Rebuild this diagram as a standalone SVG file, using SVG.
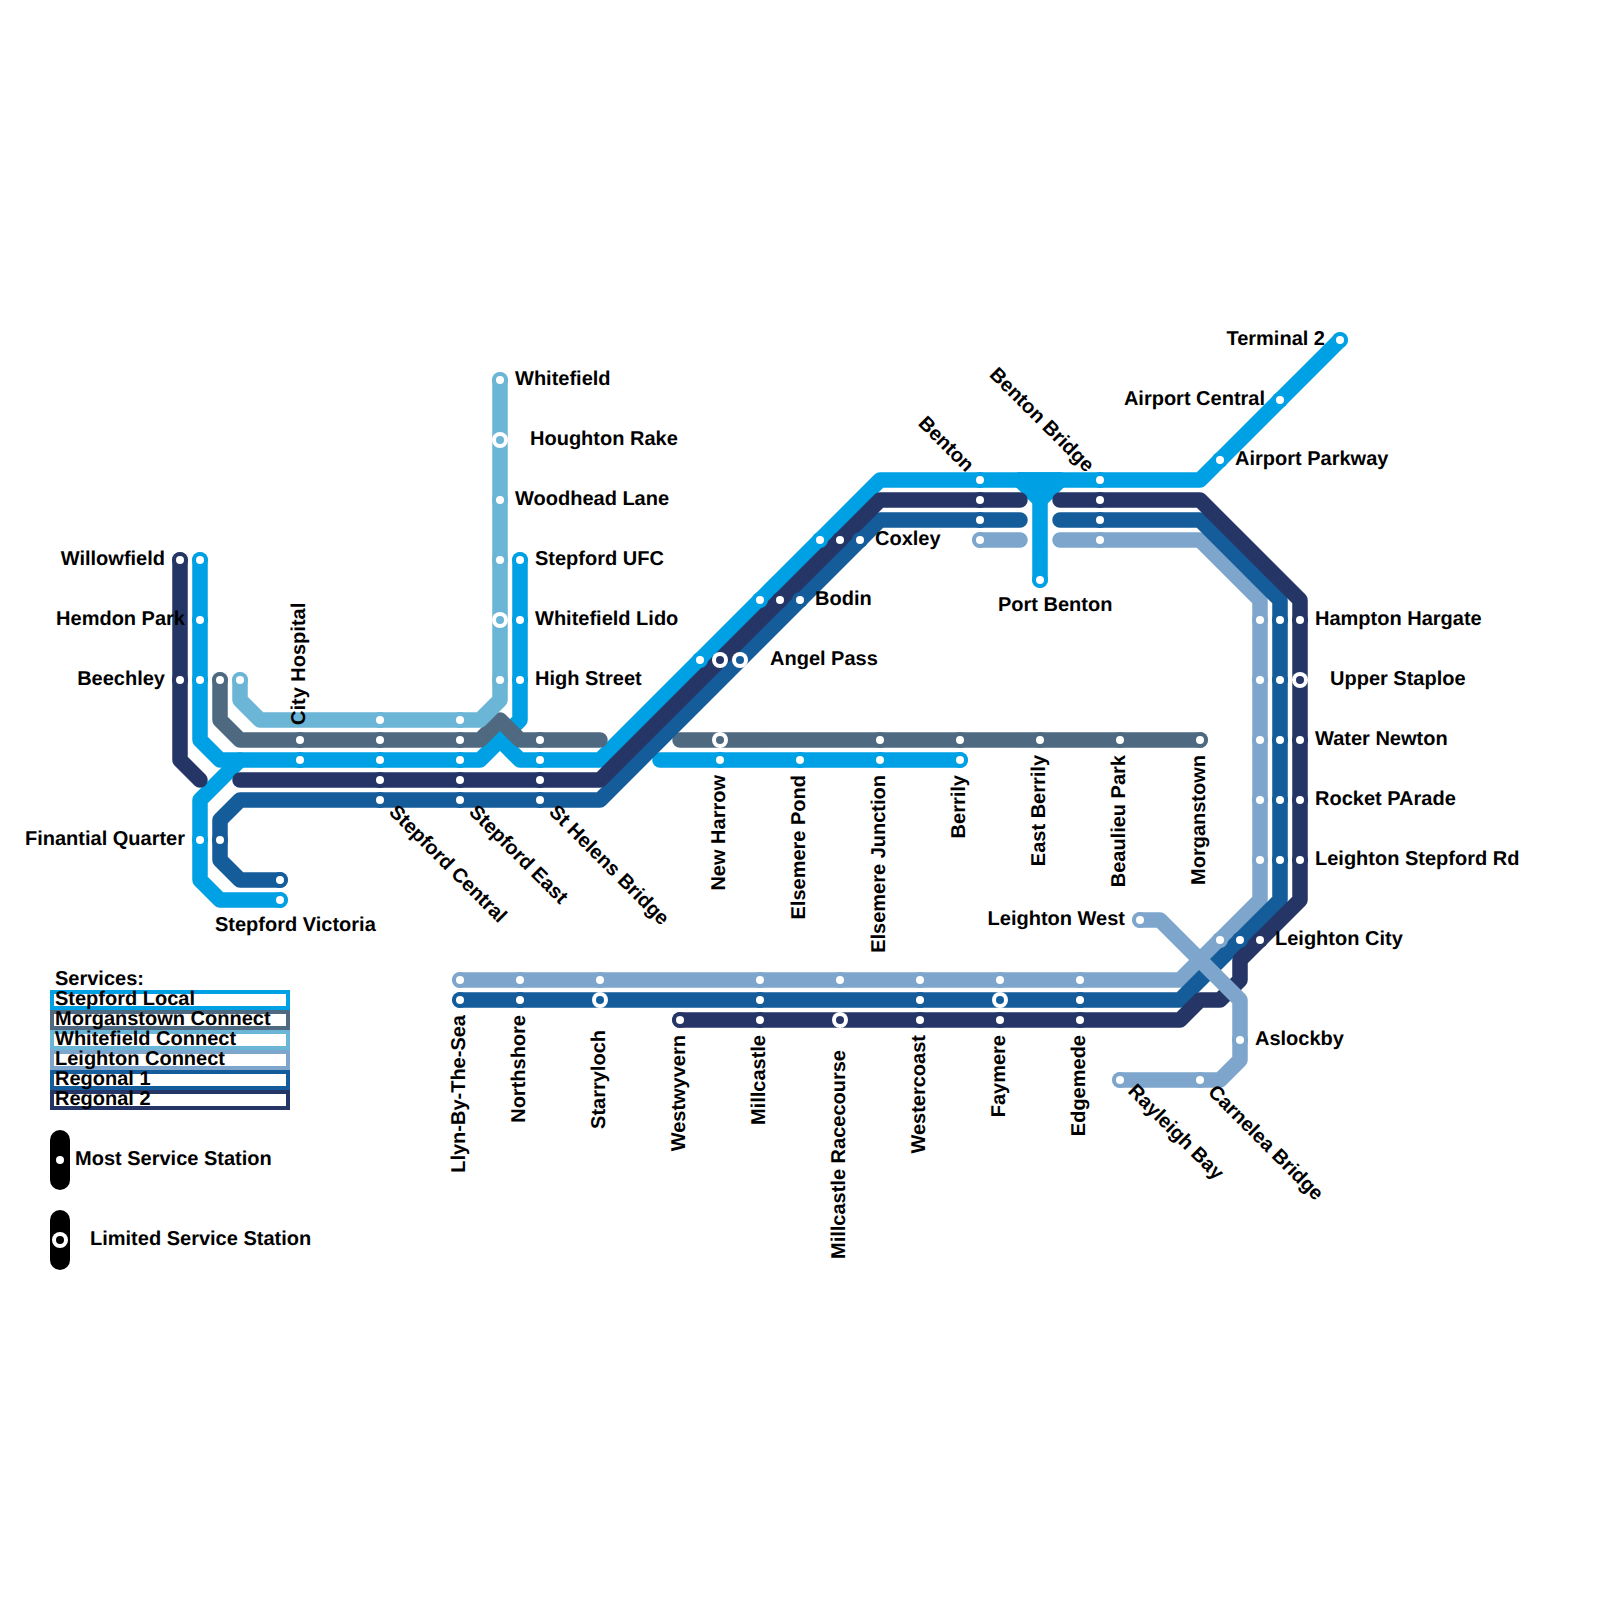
<svg xmlns="http://www.w3.org/2000/svg" width="1600" height="1600" viewBox="0 0 1600 1600">
<style>
text{font-family:"Liberation Sans",Arial,sans-serif;font-weight:bold;font-size:20px;fill:#000;text-rendering:geometricPrecision}
.e{text-anchor:end}
.l{fill:none;stroke-width:15.5;stroke-linecap:round;stroke-linejoin:round}
.sl{stroke:#00a0e4}.mc{stroke:#4f6a80}.wc{stroke:#6bb5d6}.lc{stroke:#7ea6cc}.r1{stroke:#155c9a}.r2{stroke:#243566}
.k{fill:#fff;stroke-width:4}
circle{fill:#fff}
</style>
<g id="connectors">
<path class="l sl" d="M200 560V740L220 760H480L500 740L520 760H600L880 480H1200L1340 340"/>
<path class="l sl" d="M240 760L200 800V880L220 900H280"/>
<path class="l sl" d="M520 560V720L500 740"/>
<path class="l sl" d="M660 760H960"/>
<path class="l sl" d="M1020 480L1040 500V580M1060 480L1040 500"/>
<path class="l sl" style="fill:#00a0e4" d="M1020 480H1060L1040 500Z"/>
<path class="l mc" d="M220 680V720L240 740H480L500 720L520 740H600"/>
<path class="l mc" d="M680 740H1200"/>
<path class="l wc" d="M500 380V700L480 720H260L240 700V680"/>
<path class="l lc" d="M980 540H1020"/>
<path class="l lc" d="M1060 540H1200L1260 600V900L1180 980H460"/>
<path class="l r1" d="M280 880H240L220 860V820L240 800H600L880 520H1020"/>
<path class="l r1" d="M1060 520H1200L1280 600V900L1180 1000H460"/>
<path class="l r2" d="M180 560V760L200 780"/>
<path class="l r2" d="M240 780H600L880 500H1020"/>
<path class="l r2" d="M1060 500H1200L1300 600V900L1240 960V980L1220 1000H1200L1180 1020H680"/>
<path class="l lc" d="M1140 920H1160L1240 1000V1060L1220 1080H1120"/>
</g>
<g id="legend">
<text x="55" y="985">Services:</text>
<rect class="k sl" x="52" y="992" width="236" height="16"/>
<rect class="k mc" x="52" y="1012" width="236" height="16"/>
<rect class="k wc" x="52" y="1032" width="236" height="16"/>
<rect class="k lc" x="52" y="1052" width="236" height="16"/>
<rect class="k r1" x="52" y="1072" width="236" height="16"/>
<rect class="k r2" x="52" y="1092" width="236" height="16"/>
<text x="55" y="1005">Stepford Local</text>
<text x="55" y="1025">Morganstown Connect</text>
<text x="55" y="1045">Whitefield Connect</text>
<text x="55" y="1065">Leighton Connect</text>
<text x="55" y="1085">Regonal 1</text>
<text x="55" y="1105">Regonal 2</text>
<rect x="50" y="1130" width="20" height="60" rx="10"/>
<circle cx="60" cy="1160" r="4"/>
<text x="75" y="1165">Most Service Station</text>
<rect x="50" y="1210" width="20" height="60" rx="10"/>
<circle cx="60" cy="1240" r="8"/><circle cx="60" cy="1240" r="4" style="fill:#000"/>
<text x="90" y="1245">Limited Service Station</text>
</g>
<g id="willowfield"><circle cx="180" cy="560" r="8" style="fill:#243566"/><circle cx="180" cy="560" r="4"/><circle cx="200" cy="560" r="8" style="fill:#00a0e4"/><circle cx="200" cy="560" r="4"/><text class="e" x="165" y="565">Willowfield</text></g>
<g id="hemdon-park"><circle cx="200" cy="620" r="8" style="fill:#00a0e4"/><circle cx="200" cy="620" r="4"/><text class="e" x="185" y="625">Hemdon Park</text></g>
<g id="beechley"><circle cx="180" cy="680" r="8" style="fill:#243566"/><circle cx="180" cy="680" r="4"/><circle cx="200" cy="680" r="8" style="fill:#00a0e4"/><circle cx="200" cy="680" r="4"/><circle cx="220" cy="680" r="8" style="fill:#4f6a80"/><circle cx="220" cy="680" r="4"/><circle cx="240" cy="680" r="8" style="fill:#6bb5d6"/><circle cx="240" cy="680" r="4"/><text class="e" x="165" y="685">Beechley</text></g>
<g id="city-hospital"><circle cx="300" cy="740" r="8" style="fill:#4f6a80"/><circle cx="300" cy="740" r="4"/><circle cx="300" cy="760" r="8" style="fill:#00a0e4"/><circle cx="300" cy="760" r="4"/><text transform="translate(305 725) rotate(-90)">City Hospital</text></g>
<g id="finantial-quarter"><circle cx="200" cy="840" r="8" style="fill:#00a0e4"/><circle cx="200" cy="840" r="4"/><circle cx="220" cy="840" r="8" style="fill:#155c9a"/><circle cx="220" cy="840" r="4"/><text class="e" x="185" y="845">Finantial Quarter</text></g>
<g id="stepford-victoria"><circle cx="280" cy="880" r="8" style="fill:#155c9a"/><circle cx="280" cy="880" r="4"/><circle cx="280" cy="900" r="8" style="fill:#00a0e4"/><circle cx="280" cy="900" r="4"/><text x="215" y="931">Stepford Victoria</text></g>
<g id="stepford-central"><circle cx="380" cy="720" r="8" style="fill:#6bb5d6"/><circle cx="380" cy="720" r="4"/><circle cx="380" cy="740" r="8" style="fill:#4f6a80"/><circle cx="380" cy="740" r="4"/><circle cx="380" cy="760" r="8" style="fill:#00a0e4"/><circle cx="380" cy="760" r="4"/><circle cx="380" cy="780" r="8" style="fill:#243566"/><circle cx="380" cy="780" r="4"/><circle cx="380" cy="800" r="8" style="fill:#155c9a"/><circle cx="380" cy="800" r="4"/><text transform="translate(388 813) rotate(45)">Stepford Central</text></g>
<g id="stepford-east"><circle cx="460" cy="720" r="8" style="fill:#6bb5d6"/><circle cx="460" cy="720" r="4"/><circle cx="460" cy="740" r="8" style="fill:#4f6a80"/><circle cx="460" cy="740" r="4"/><circle cx="460" cy="760" r="8" style="fill:#00a0e4"/><circle cx="460" cy="760" r="4"/><circle cx="460" cy="780" r="8" style="fill:#243566"/><circle cx="460" cy="780" r="4"/><circle cx="460" cy="800" r="8" style="fill:#155c9a"/><circle cx="460" cy="800" r="4"/><text transform="translate(468 813) rotate(45)">Stepford East</text></g>
<g id="st-helens-bridge"><circle cx="540" cy="740" r="8" style="fill:#4f6a80"/><circle cx="540" cy="740" r="4"/><circle cx="540" cy="760" r="8" style="fill:#00a0e4"/><circle cx="540" cy="760" r="4"/><circle cx="540" cy="780" r="8" style="fill:#243566"/><circle cx="540" cy="780" r="4"/><circle cx="540" cy="800" r="8" style="fill:#155c9a"/><circle cx="540" cy="800" r="4"/><text transform="translate(548 813) rotate(45)">St Helens Bridge</text></g>
<g id="whitefield"><circle cx="500" cy="380" r="8" style="fill:#6bb5d6"/><circle cx="500" cy="380" r="4"/><text x="515" y="385">Whitefield</text></g>
<g id="houghton-rake"><circle cx="500" cy="440" r="8"/><circle cx="500" cy="440" r="4" style="fill:#6bb5d6"/><text x="530" y="445">Houghton Rake</text></g>
<g id="woodhead-lane"><circle cx="500" cy="500" r="8" style="fill:#6bb5d6"/><circle cx="500" cy="500" r="4"/><text x="515" y="505">Woodhead Lane</text></g>
<g id="stepford-ufc"><circle cx="500" cy="560" r="8" style="fill:#6bb5d6"/><circle cx="500" cy="560" r="4"/><circle cx="520" cy="560" r="8" style="fill:#00a0e4"/><circle cx="520" cy="560" r="4"/><text x="535" y="565">Stepford UFC</text></g>
<g id="whitefield-lido"><circle cx="500" cy="620" r="8"/><circle cx="500" cy="620" r="4" style="fill:#6bb5d6"/><circle cx="520" cy="620" r="8" style="fill:#00a0e4"/><circle cx="520" cy="620" r="4"/><text x="535" y="625">Whitefield Lido</text></g>
<g id="high-street"><circle cx="500" cy="680" r="8" style="fill:#6bb5d6"/><circle cx="500" cy="680" r="4"/><circle cx="520" cy="680" r="8" style="fill:#00a0e4"/><circle cx="520" cy="680" r="4"/><text x="535" y="685">High Street</text></g>
<g id="angel-pass"><circle cx="700" cy="660" r="8" style="fill:#00a0e4"/><circle cx="700" cy="660" r="4"/><circle cx="720" cy="660" r="8"/><circle cx="720" cy="660" r="4" style="fill:#243566"/><circle cx="740" cy="660" r="8"/><circle cx="740" cy="660" r="4" style="fill:#155c9a"/><text x="770" y="665">Angel Pass</text></g>
<g id="bodin"><circle cx="760" cy="600" r="8" style="fill:#00a0e4"/><circle cx="760" cy="600" r="4"/><circle cx="780" cy="600" r="8" style="fill:#243566"/><circle cx="780" cy="600" r="4"/><circle cx="800" cy="600" r="8" style="fill:#155c9a"/><circle cx="800" cy="600" r="4"/><text x="815" y="605">Bodin</text></g>
<g id="coxley"><circle cx="820" cy="540" r="8" style="fill:#00a0e4"/><circle cx="820" cy="540" r="4"/><circle cx="840" cy="540" r="8" style="fill:#243566"/><circle cx="840" cy="540" r="4"/><circle cx="860" cy="540" r="8" style="fill:#155c9a"/><circle cx="860" cy="540" r="4"/><text x="875" y="545">Coxley</text></g>
<g id="new-harrow"><circle cx="720" cy="740" r="8"/><circle cx="720" cy="740" r="4" style="fill:#4f6a80"/><circle cx="720" cy="760" r="8" style="fill:#00a0e4"/><circle cx="720" cy="760" r="4"/><text class="e" transform="translate(725 775) rotate(-90)">New Harrow</text></g>
<g id="elsemere-pond"><circle cx="800" cy="760" r="8" style="fill:#00a0e4"/><circle cx="800" cy="760" r="4"/><text class="e" transform="translate(805 775) rotate(-90)">Elsemere Pond</text></g>
<g id="elsemere-junction"><circle cx="880" cy="740" r="8" style="fill:#4f6a80"/><circle cx="880" cy="740" r="4"/><circle cx="880" cy="760" r="8" style="fill:#00a0e4"/><circle cx="880" cy="760" r="4"/><text class="e" transform="translate(885 775) rotate(-90)">Elsemere Junction</text></g>
<g id="berrily"><circle cx="960" cy="740" r="8" style="fill:#4f6a80"/><circle cx="960" cy="740" r="4"/><circle cx="960" cy="760" r="8" style="fill:#00a0e4"/><circle cx="960" cy="760" r="4"/><text class="e" transform="translate(965 775) rotate(-90)">Berrily</text></g>
<g id="east-berrily"><circle cx="1040" cy="740" r="8" style="fill:#4f6a80"/><circle cx="1040" cy="740" r="4"/><text class="e" transform="translate(1045 755) rotate(-90)">East Berrily</text></g>
<g id="beaulieu-park"><circle cx="1120" cy="740" r="8" style="fill:#4f6a80"/><circle cx="1120" cy="740" r="4"/><text class="e" transform="translate(1125 755) rotate(-90)">Beaulieu Park</text></g>
<g id="morganstown"><circle cx="1200" cy="740" r="8" style="fill:#4f6a80"/><circle cx="1200" cy="740" r="4"/><text class="e" transform="translate(1205 755) rotate(-90)">Morganstown</text></g>
<g id="benton"><circle cx="980" cy="480" r="8" style="fill:#00a0e4"/><circle cx="980" cy="480" r="4"/><circle cx="980" cy="500" r="8" style="fill:#243566"/><circle cx="980" cy="500" r="4"/><circle cx="980" cy="520" r="8" style="fill:#155c9a"/><circle cx="980" cy="520" r="4"/><circle cx="980" cy="540" r="8" style="fill:#7ea6cc"/><circle cx="980" cy="540" r="4"/><text class="e" transform="translate(966 473) rotate(45)">Benton</text></g>
<g id="benton-bridge"><circle cx="1100" cy="480" r="8" style="fill:#00a0e4"/><circle cx="1100" cy="480" r="4"/><circle cx="1100" cy="500" r="8" style="fill:#243566"/><circle cx="1100" cy="500" r="4"/><circle cx="1100" cy="520" r="8" style="fill:#155c9a"/><circle cx="1100" cy="520" r="4"/><circle cx="1100" cy="540" r="8" style="fill:#7ea6cc"/><circle cx="1100" cy="540" r="4"/><text class="e" transform="translate(1086 473) rotate(45)">Benton Bridge</text></g>
<g id="port-benton"><circle cx="1040" cy="580" r="8" style="fill:#00a0e4"/><circle cx="1040" cy="580" r="4"/><text x="998" y="611">Port Benton</text></g>
<g id="airport-parkway"><circle cx="1220" cy="460" r="8" style="fill:#00a0e4"/><circle cx="1220" cy="460" r="4"/><text x="1235" y="465">Airport Parkway</text></g>
<g id="airport-central"><circle cx="1280" cy="400" r="8" style="fill:#00a0e4"/><circle cx="1280" cy="400" r="4"/><text class="e" x="1265" y="405">Airport Central</text></g>
<g id="terminal-2"><circle cx="1340" cy="340" r="8" style="fill:#00a0e4"/><circle cx="1340" cy="340" r="4"/><text class="e" x="1325" y="345">Terminal 2</text></g>
<g id="hampton-hargate"><circle cx="1260" cy="620" r="8" style="fill:#7ea6cc"/><circle cx="1260" cy="620" r="4"/><circle cx="1280" cy="620" r="8" style="fill:#155c9a"/><circle cx="1280" cy="620" r="4"/><circle cx="1300" cy="620" r="8" style="fill:#243566"/><circle cx="1300" cy="620" r="4"/><text x="1315" y="625">Hampton Hargate</text></g>
<g id="upper-staploe"><circle cx="1260" cy="680" r="8" style="fill:#7ea6cc"/><circle cx="1260" cy="680" r="4"/><circle cx="1280" cy="680" r="8" style="fill:#155c9a"/><circle cx="1280" cy="680" r="4"/><circle cx="1300" cy="680" r="8"/><circle cx="1300" cy="680" r="4" style="fill:#243566"/><text x="1330" y="685">Upper Staploe</text></g>
<g id="water-newton"><circle cx="1260" cy="740" r="8" style="fill:#7ea6cc"/><circle cx="1260" cy="740" r="4"/><circle cx="1280" cy="740" r="8" style="fill:#155c9a"/><circle cx="1280" cy="740" r="4"/><circle cx="1300" cy="740" r="8" style="fill:#243566"/><circle cx="1300" cy="740" r="4"/><text x="1315" y="745">Water Newton</text></g>
<g id="rocket-parade"><circle cx="1260" cy="800" r="8" style="fill:#7ea6cc"/><circle cx="1260" cy="800" r="4"/><circle cx="1280" cy="800" r="8" style="fill:#155c9a"/><circle cx="1280" cy="800" r="4"/><circle cx="1300" cy="800" r="8" style="fill:#243566"/><circle cx="1300" cy="800" r="4"/><text x="1315" y="805">Rocket PArade</text></g>
<g id="leighton-stepford-rd"><circle cx="1260" cy="860" r="8" style="fill:#7ea6cc"/><circle cx="1260" cy="860" r="4"/><circle cx="1280" cy="860" r="8" style="fill:#155c9a"/><circle cx="1280" cy="860" r="4"/><circle cx="1300" cy="860" r="8" style="fill:#243566"/><circle cx="1300" cy="860" r="4"/><text x="1315" y="865">Leighton Stepford Rd</text></g>
<g id="leighton-city"><circle cx="1220" cy="940" r="8" style="fill:#7ea6cc"/><circle cx="1220" cy="940" r="4"/><circle cx="1240" cy="940" r="8" style="fill:#155c9a"/><circle cx="1240" cy="940" r="4"/><circle cx="1260" cy="940" r="8" style="fill:#243566"/><circle cx="1260" cy="940" r="4"/><text x="1275" y="945">Leighton City</text></g>
<g id="leighton-west"><circle cx="1140" cy="920" r="8" style="fill:#7ea6cc"/><circle cx="1140" cy="920" r="4"/><text class="e" x="1125" y="925">Leighton West</text></g>
<g id="aslockby"><circle cx="1240" cy="1040" r="8" style="fill:#7ea6cc"/><circle cx="1240" cy="1040" r="4"/><text x="1255" y="1045">Aslockby</text></g>
<g id="carnelea-bridge"><circle cx="1200" cy="1080" r="8" style="fill:#7ea6cc"/><circle cx="1200" cy="1080" r="4"/><text transform="translate(1207 1093) rotate(45)">Carnelea Bridge</text></g>
<g id="rayleigh-bay"><circle cx="1120" cy="1080" r="8" style="fill:#7ea6cc"/><circle cx="1120" cy="1080" r="4"/><text transform="translate(1127 1092) rotate(45)">Rayleigh Bay</text></g>
<g id="llyn"><circle cx="460" cy="980" r="8" style="fill:#7ea6cc"/><circle cx="460" cy="980" r="4"/><circle cx="460" cy="1000" r="8" style="fill:#155c9a"/><circle cx="460" cy="1000" r="4"/><text class="e" transform="translate(465 1015) rotate(-90)">Llyn-By-The-Sea</text></g>
<g id="northshore"><circle cx="520" cy="980" r="8" style="fill:#7ea6cc"/><circle cx="520" cy="980" r="4"/><circle cx="520" cy="1000" r="8" style="fill:#155c9a"/><circle cx="520" cy="1000" r="4"/><text class="e" transform="translate(525 1015) rotate(-90)">Northshore</text></g>
<g id="starryloch"><circle cx="600" cy="980" r="8" style="fill:#7ea6cc"/><circle cx="600" cy="980" r="4"/><circle cx="600" cy="1000" r="8"/><circle cx="600" cy="1000" r="4" style="fill:#155c9a"/><text class="e" transform="translate(605 1030) rotate(-90)">Starryloch</text></g>
<g id="westwyvern"><circle cx="680" cy="1020" r="8" style="fill:#243566"/><circle cx="680" cy="1020" r="4"/><text class="e" transform="translate(685 1035) rotate(-90)">Westwyvern</text></g>
<g id="millcastle"><circle cx="760" cy="980" r="8" style="fill:#7ea6cc"/><circle cx="760" cy="980" r="4"/><circle cx="760" cy="1000" r="8" style="fill:#155c9a"/><circle cx="760" cy="1000" r="4"/><circle cx="760" cy="1020" r="8" style="fill:#243566"/><circle cx="760" cy="1020" r="4"/><text class="e" transform="translate(765 1035) rotate(-90)">Millcastle</text></g>
<g id="millcastle-racecourse"><circle cx="840" cy="980" r="8" style="fill:#7ea6cc"/><circle cx="840" cy="980" r="4"/><circle cx="840" cy="1020" r="8"/><circle cx="840" cy="1020" r="4" style="fill:#243566"/><text class="e" transform="translate(845 1050) rotate(-90)">Millcastle Racecourse</text></g>
<g id="westercoast"><circle cx="920" cy="980" r="8" style="fill:#7ea6cc"/><circle cx="920" cy="980" r="4"/><circle cx="920" cy="1000" r="8" style="fill:#155c9a"/><circle cx="920" cy="1000" r="4"/><circle cx="920" cy="1020" r="8" style="fill:#243566"/><circle cx="920" cy="1020" r="4"/><text class="e" transform="translate(925 1035) rotate(-90)">Westercoast</text></g>
<g id="faymere"><circle cx="1000" cy="980" r="8" style="fill:#7ea6cc"/><circle cx="1000" cy="980" r="4"/><circle cx="1000" cy="1000" r="8"/><circle cx="1000" cy="1000" r="4" style="fill:#155c9a"/><circle cx="1000" cy="1020" r="8" style="fill:#243566"/><circle cx="1000" cy="1020" r="4"/><text class="e" transform="translate(1005 1035) rotate(-90)">Faymere</text></g>
<g id="edgemede"><circle cx="1080" cy="980" r="8" style="fill:#7ea6cc"/><circle cx="1080" cy="980" r="4"/><circle cx="1080" cy="1000" r="8" style="fill:#155c9a"/><circle cx="1080" cy="1000" r="4"/><circle cx="1080" cy="1020" r="8" style="fill:#243566"/><circle cx="1080" cy="1020" r="4"/><text class="e" transform="translate(1085 1035) rotate(-90)">Edgemede</text></g>
</svg>
